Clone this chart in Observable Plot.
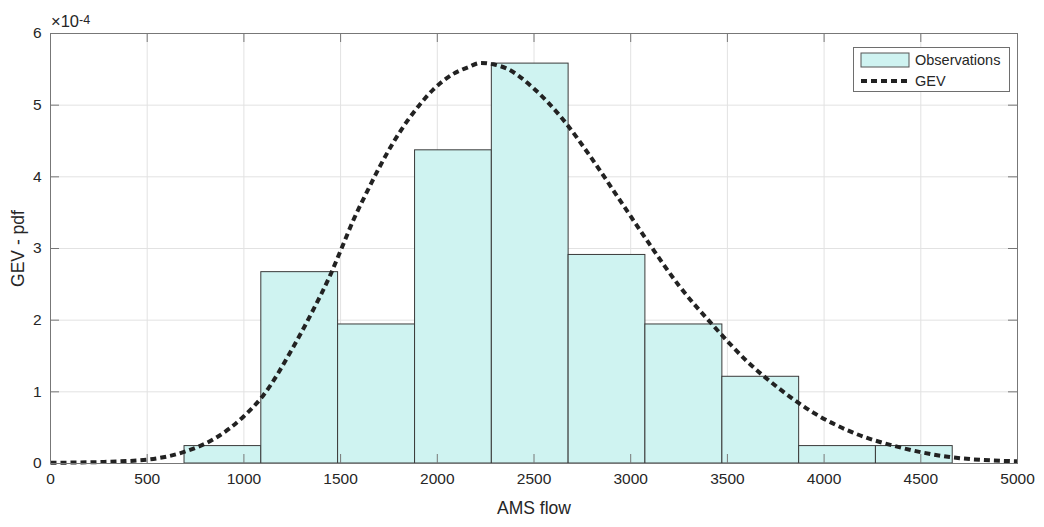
<!DOCTYPE html>
<html>
<head>
<meta charset="utf-8">
<script src="https://cdn.jsdelivr.net/npm/d3@7"></script>
<script src="https://cdn.jsdelivr.net/npm/@observablehq/plot@0.6"></script>
<style>
  html, body { margin: 0; padding: 0; background: #fff; }
  #wrap { position: relative; width: 1044px; height: 527px; font-family: "Liberation Sans", Arial, Helvetica, sans-serif; color: #262626; }
  #expo { position: absolute; left: 51px; top: 12px; font-size: 16.5px; line-height: 18px; color: #262626; }
  #expo sup { font-size: 12.5px; position: relative; top: -3px; vertical-align: baseline; }
  #legend { position: absolute; left: 853px; top: 47px; width: 155px; height: 43px; border: 1px solid #6e6e6e; background: #fff; font-size: 14.5px; }
  #legend svg { position: absolute; left: 0; top: 0; }
  #legend .lab { position: absolute; left: 61px; line-height: 16px; }
</style>
</head>
<body>
<div id="wrap">
  <div id="chart"></div>
  <div id="expo">×10<sup>-4</sup></div>
  <div id="legend">
    <svg width="155" height="43">
      <rect x="7" y="5" width="48" height="14" fill="#cff3f1" stroke="#555" stroke-width="1"></rect>
      <line x1="7" x2="57" y1="33" y2="33" stroke="#222" stroke-width="4" stroke-dasharray="6,4"></line>
    </svg>
    <div class="lab" style="top:4px">Observations</div>
    <div class="lab" style="top:25px">GEV</div>
  </div>
</div>
<script>
// Histogram bin edges (AMS flow) and density heights (in units of 1e-4)
const binEdges = [693, 1090, 1487, 1885, 2282, 2679, 3076, 3474, 3871, 4268, 4665];
const binDensity = [0.243, 2.67, 1.94, 4.37, 5.58, 2.91, 1.94, 1.21, 0.243, 0.243];

// GEV pdf curve (units of 1e-4)
const curveX = [0, 250, 500, 700, 850, 1000, 1100, 1250, 1350, 1450, 1500, 1570, 1640, 1700, 1775, 1845, 1910, 1980, 2085, 2160, 2225, 2290, 2360, 2500, 2650, 2800, 2950, 3100, 3250, 3425, 3600, 3775, 3950, 4150, 4400, 4650, 5000];
const curveY = [0.01, 0.02, 0.055, 0.17, 0.35, 0.66, 0.95, 1.6, 2.1, 2.65, 2.97, 3.42, 3.81, 4.13, 4.49, 4.78, 5.01, 5.22, 5.44, 5.53, 5.59, 5.57, 5.51, 5.23, 4.80, 4.25, 3.65, 3.05, 2.48, 1.93, 1.43, 1.03, 0.70, 0.43, 0.22, 0.09, 0.03];

const xTicks = [0, 500, 1000, 1500, 2000, 2500, 3000, 3500, 4000, 4500, 5000];
const yTicks = [0, 1, 2, 3, 4, 5, 6];
const xLabel = "AMS flow";
const yLabel = "GEV - pdf";

const bins = binDensity.map((v, i) => ({x1: binEdges[i], x2: binEdges[i + 1], y: v}));
const curve = curveX.map((x, i) => ({x, y: curveY[i]}));

const W = 1044, H = 527;
const mL = 50, mR = 27, mT = 33, mB = 64;
const xDom = [0, 5000], yDom = [0, 6];
const tickLen = 9;
const tx = tickLen * (xDom[1] - xDom[0]) / (W - mL - mR);
const ty = tickLen * (yDom[1] - yDom[0]) / (H - mT - mB);
const gridColor = "#e2e2e2";
const axisColor = "#777";

const chart = Plot.plot({
  width: W, height: H,
  marginLeft: mL, marginRight: mR, marginTop: mT, marginBottom: mB,
  style: {fontFamily: "'Liberation Sans', Arial, Helvetica, sans-serif", fontSize: "15.5px", color: "#262626", background: "#fff"},
  x: {domain: xDom, ticks: xTicks},
  y: {domain: yDom, ticks: yTicks},
  marks: [
    Plot.ruleX(xTicks, {x: d => d, stroke: gridColor, strokeWidth: 1}),
    Plot.ruleY(yTicks, {y: d => d, stroke: gridColor, strokeWidth: 1}),
    Plot.rect(bins, {x1: "x1", x2: "x2", y1: 0, y2: "y", fill: "#cff3f1", stroke: "#3a3a3a", strokeWidth: 1}),
    Plot.line(curve, {x: "x", y: "y", stroke: "#222", strokeWidth: 4, strokeDasharray: "6,4", strokeLinecap: "butt", strokeLinejoin: "miter", curve: "monotone-x"}),
    Plot.frame({stroke: axisColor, strokeWidth: 1}),
    Plot.ruleX(xTicks, {x: d => d, y1: 0, y2: ty, stroke: axisColor}),
    Plot.ruleX(xTicks, {x: d => d, y1: yDom[1], y2: yDom[1] - ty, stroke: axisColor}),
    Plot.ruleY(yTicks, {y: d => d, x1: 0, x2: tx, stroke: axisColor}),
    Plot.ruleY(yTicks, {y: d => d, x1: xDom[1], x2: xDom[1] - tx, stroke: axisColor}),
    Plot.axisX({ticks: xTicks, tickSize: 0, tickPadding: 9, label: null, tickFormat: d => String(d), fill: "#262626"}),
    Plot.axisY({ticks: yTicks, tickSize: 0, tickPadding: 9, label: null, tickFormat: d => String(d), fill: "#262626"}),
    Plot.text([xLabel], {frameAnchor: "bottom", dy: 50, text: d => d, fontSize: 17.5, fill: "#262626"}),
    Plot.text([yLabel], {frameAnchor: "left", dx: -32, rotate: -90, textAnchor: "middle", text: d => d, fontSize: 17.5, fill: "#262626"})
  ]
});
document.getElementById("chart").appendChild(chart);
</script>
</body>
</html>
